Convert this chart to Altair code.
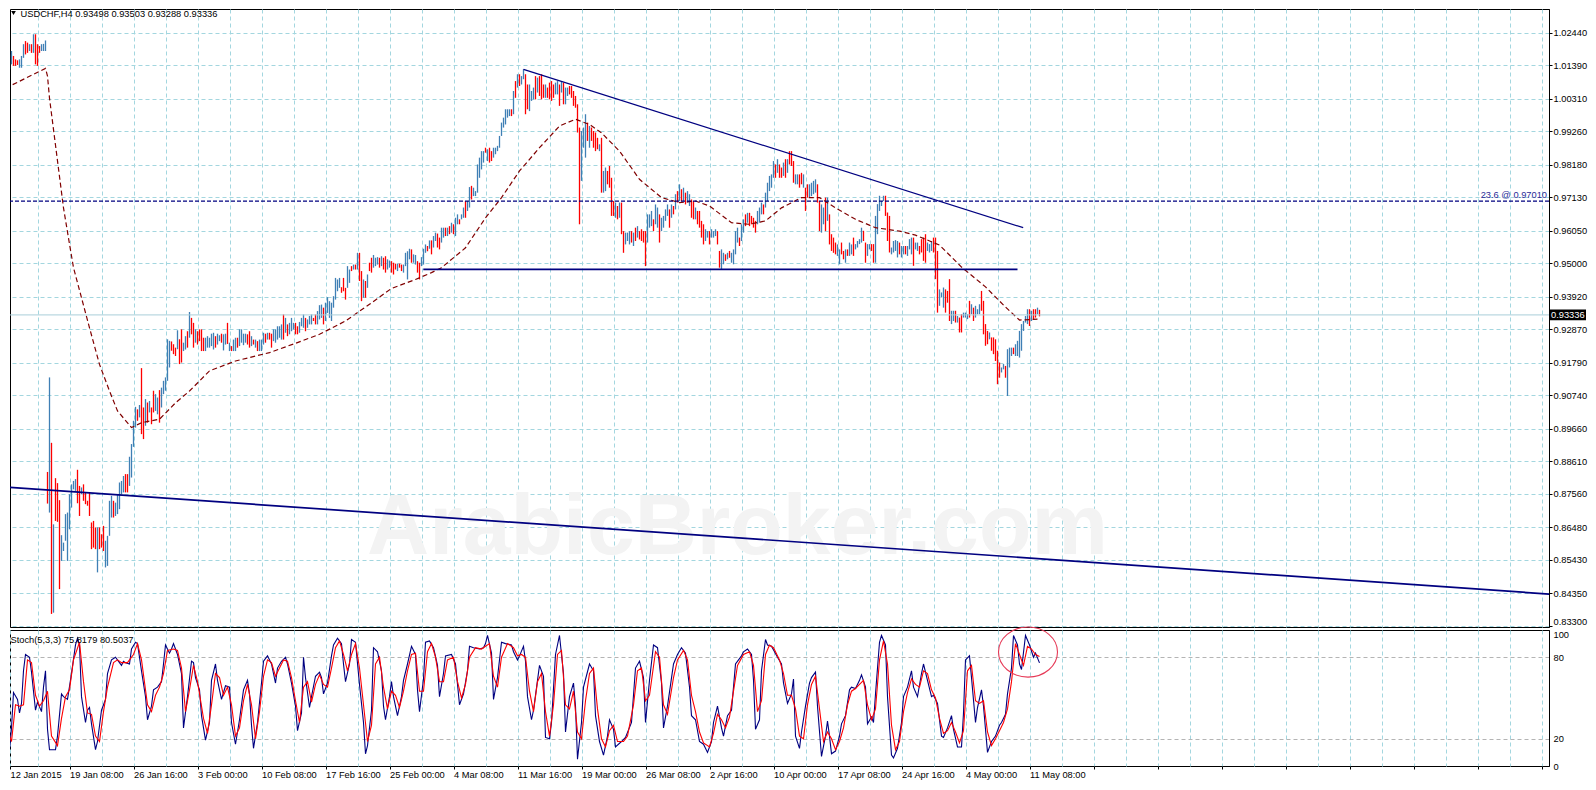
import altair as alt
import pandas as pd

# ---------------- text / axes ----------------
header_text = "USDCHF,H4  0.93498 0.93503 0.93288 0.93336"
stoch_text = "Stoch(5,3,3) 75.8179 80.5037"
fib_text = "23.6 @ 0.97010"
watermark = "ArabicBroker.com"
price_ticks = [1.02440, 1.01390, 1.00310, 0.99260, 0.98180, 0.97130, 0.96050, 0.95000,
               0.93920, 0.92870, 0.91790, 0.90740, 0.89660, 0.88610, 0.87560, 0.86480,
               0.85430, 0.84350, 0.83300]
stoch_ticks = [0, 20, 80, 100]
date_labels = ["12 Jan 2015", "19 Jan 08:00", "26 Jan 16:00", "3 Feb 00:00", "10 Feb 08:00",
               "17 Feb 16:00", "25 Feb 00:00", "4 Mar 08:00", "11 Mar 16:00", "19 Mar 00:00",
               "26 Mar 08:00", "2 Apr 16:00", "10 Apr 00:00", "17 Apr 08:00", "24 Apr 16:00",
               "4 May 00:00", "11 May 08:00"]

# ---------------- H4 bars (price in 1/10000) ----------------
bar_high = [
    10147, 10142, 10174, 10185, 10169, 10158, 10155, 10158, 10169, 10207,
    10217, 10212, 10207, 10207, 10239, 10239, 10207, 10201, 10207, 10208,
    10219, 8827, 9132, 8921, 8658, 8807, 8791, 8736, 8623, 8599,
    8691, 8696, 8755, 8787, 8798, 8804, 8834, 8782, 8777, 8787,
    8761, 8734, 8761, 8664, 8669, 8648, 8648, 8648, 8626, 8653,
    8605, 8621, 8734, 8750, 8734, 8728, 8755, 8793, 8798, 8814,
    8820, 8820, 8876, 8917, 8992, 9037, 9029, 9043, 9162, 9035,
    9062, 9051, 9056, 9035, 9089, 9078, 9067, 9091, 9099, 9121,
    9132, 9255, 9250, 9248, 9239, 9228, 9284, 9255, 9287, 9244,
    9265, 9281, 9343, 9324, 9308, 9287, 9281, 9287, 9287, 9260,
    9260, 9265, 9260, 9273, 9276, 9265, 9273, 9268, 9273, 9271,
    9273, 9308, 9244, 9233, 9254, 9260, 9260, 9287, 9287, 9273,
    9273, 9271, 9281, 9265, 9254, 9254, 9249, 9254, 9254, 9276,
    9273, 9276, 9276, 9273, 9287, 9287, 9297, 9297, 9303, 9335,
    9324, 9303, 9308, 9324, 9308, 9308, 9297, 9311, 9324, 9335,
    9324, 9319, 9330, 9335, 9324, 9335, 9346, 9365, 9367, 9357,
    9373, 9391, 9378, 9373, 9394, 9453, 9448, 9453, 9423, 9453,
    9421, 9491, 9480, 9491, 9496, 9496, 9534, 9534, 9475, 9448,
    9443, 9464, 9502, 9518, 9527, 9518, 9520, 9518, 9523, 9518,
    9523, 9513, 9509, 9507, 9502, 9499, 9499, 9499, 9496, 9496,
    9534, 9539, 9547, 9545, 9529, 9527, 9507, 9502, 9520, 9547,
    9561, 9556, 9574, 9574, 9588, 9599, 9596, 9583, 9615, 9615,
    9615, 9615, 9620, 9631, 9626, 9647, 9658, 9642, 9658, 9680,
    9701, 9701, 9746, 9750, 9744, 9733, 9819, 9841, 9862, 9862,
    9873, 9868, 9873, 9862, 9873, 9873, 9879, 9911, 9954, 9970,
    9997, 9997, 9997, 9997, 10056, 10088, 10110, 10110, 10104, 10126,
    10110, 10077, 10077, 10056, 10067, 10104, 10099, 10104, 10110, 10077,
    10077, 10067, 10083, 10088, 10077, 10083, 10088, 10077, 10088, 10083,
    10067, 10067, 10072, 10072, 10056, 10040, 10013, 9938, 9927, 9938,
    9981, 9954, 9943, 9938, 9927, 9922, 9905, 9884, 9905, 9798,
    9809, 9798, 9814, 9776, 9701, 9696, 9685, 9696, 9696, 9604,
    9599, 9599, 9604, 9604, 9599, 9615, 9620, 9604, 9610, 9604,
    9604, 9658, 9658, 9669, 9642, 9690, 9680, 9658, 9647, 9653,
    9674, 9690, 9674, 9690, 9685, 9723, 9733, 9755, 9739, 9744,
    9728, 9733, 9723, 9706, 9701, 9680, 9669, 9669, 9637, 9626,
    9610, 9604, 9604, 9610, 9604, 9610, 9604, 9540, 9545, 9534,
    9529, 9534, 9540, 9534, 9545, 9604, 9615, 9583, 9626, 9642,
    9658, 9663, 9663, 9653, 9647, 9637, 9669, 9680, 9696, 9690,
    9728, 9760, 9782, 9787, 9830, 9819, 9836, 9819, 9809, 9825,
    9836, 9836, 9862, 9862, 9830, 9787, 9787, 9787, 9792, 9787,
    9744, 9755, 9755, 9760, 9766, 9771, 9755, 9701, 9690, 9680,
    9712, 9712, 9658, 9594, 9583, 9567, 9561, 9545, 9567, 9540,
    9545, 9545, 9567, 9561, 9583, 9562, 9572, 9578, 9615, 9605,
    9567, 9562, 9562, 9562, 9562, 9653, 9691, 9718, 9701, 9718,
    9718, 9664, 9653, 9551, 9572, 9575, 9572, 9567, 9556, 9556,
    9556, 9556, 9578, 9583, 9583, 9567, 9567, 9556, 9578, 9583,
    9594, 9567, 9562, 9572, 9583, 9583, 9540, 9416, 9406, 9422,
    9416, 9411, 9449, 9347, 9347, 9347, 9330, 9325, 9336, 9341,
    9341, 9336, 9379, 9368, 9357, 9363, 9352, 9368, 9411, 9379,
    9304, 9282, 9277, 9261, 9261, 9255, 9218, 9180, 9164, 9175,
    9169, 9223, 9228, 9228, 9228, 9239, 9250, 9282, 9304, 9314,
    9330, 9352, 9352, 9347, 9352, 9352, 9357, 9350,
]
bar_low = [
    10115, 10118, 10126, 10142, 10137, 10137, 10140, 10131, 10131, 10163,
    10174, 10179, 10185, 10179, 10179, 10142, 10137, 10179, 10185, 10185,
    10185, 8725, 8696, 8369, 8373, 8669, 8666, 8449, 8540, 8572,
    8605, 8540, 8642, 8712, 8771, 8766, 8726, 8685, 8755, 8734,
    8723, 8718, 8685, 8578, 8583, 8578, 8503, 8578, 8583, 8572,
    8519, 8524, 8621, 8680, 8680, 8685, 8691, 8707, 8755, 8761,
    8761, 8761, 8782, 8809, 8908, 8970, 8992, 9003, 8949, 8933,
    8976, 8986, 9019, 8981, 9019, 9024, 9013, 8986, 9035, 9078,
    9089, 9121, 9164, 9218, 9207, 9201, 9223, 9175, 9180, 9217,
    9222, 9228, 9260, 9271, 9228, 9244, 9238, 9249, 9217, 9217,
    9217, 9228, 9228, 9233, 9222, 9228, 9238, 9249, 9244, 9219,
    9238, 9240, 9217, 9217, 9217, 9217, 9228, 9233, 9244, 9236,
    9244, 9238, 9228, 9233, 9238, 9228, 9217, 9217, 9217, 9238,
    9244, 9254, 9254, 9228, 9249, 9244, 9254, 9260, 9254, 9254,
    9276, 9265, 9271, 9281, 9287, 9271, 9271, 9276, 9297, 9292,
    9281, 9292, 9303, 9303, 9314, 9303, 9303, 9319, 9324, 9303,
    9314, 9340, 9324, 9314, 9357, 9383, 9410, 9421, 9405, 9410,
    9383, 9421, 9437, 9475, 9480, 9480, 9480, 9443, 9378, 9389,
    9389, 9421, 9475, 9470, 9486, 9491, 9496, 9486, 9491, 9480,
    9470, 9480, 9486, 9470, 9464, 9480, 9475, 9486, 9475, 9470,
    9491, 9448, 9513, 9502, 9502, 9496, 9470, 9448, 9491, 9496,
    9534, 9539, 9547, 9529, 9551, 9572, 9551, 9545, 9567, 9583,
    9588, 9588, 9594, 9599, 9594, 9588, 9626, 9626, 9642, 9647,
    9647, 9669, 9680, 9706, 9717, 9717, 9728, 9776, 9803, 9825,
    9857, 9830, 9825, 9830, 9841, 9852, 9862, 9873, 9911, 9938,
    9948, 9970, 9975, 9975, 9981, 10034, 10067, 10072, 10077, 10094,
    9981, 9997, 9991, 10024, 10029, 10029, 10051, 10040, 10029, 10034,
    10034, 10034, 10029, 10024, 10034, 10045, 10045, 10008, 10051, 10013,
    10013, 10040, 10045, 10034, 10008, 10002, 9922, 9626, 9766, 9873,
    9841, 9895, 9873, 9895, 9873, 9862, 9868, 9862, 9728, 9728,
    9733, 9755, 9744, 9653, 9653, 9647, 9642, 9647, 9594, 9534,
    9561, 9572, 9561, 9567, 9556, 9572, 9583, 9577, 9572, 9567,
    9491, 9567, 9615, 9620, 9604, 9626, 9615, 9567, 9604, 9615,
    9637, 9653, 9615, 9647, 9658, 9674, 9696, 9701, 9701, 9701,
    9690, 9696, 9685, 9647, 9642, 9642, 9626, 9615, 9583, 9561,
    9572, 9583, 9561, 9583, 9583, 9588, 9561, 9486, 9481, 9497,
    9508, 9513, 9518, 9502, 9497, 9529, 9567, 9556, 9572, 9599,
    9620, 9631, 9620, 9626, 9615, 9599, 9626, 9631, 9658, 9658,
    9680, 9701, 9733, 9744, 9776, 9776, 9792, 9776, 9776, 9782,
    9776, 9792, 9819, 9814, 9760, 9755, 9755, 9744, 9755, 9744,
    9669, 9712, 9712, 9717, 9723, 9728, 9696, 9604, 9599, 9626,
    9604, 9637, 9561, 9540, 9534, 9529, 9524, 9497, 9529, 9513,
    9502, 9524, 9524, 9529, 9524, 9545, 9551, 9562, 9567, 9572,
    9502, 9524, 9545, 9540, 9502, 9502, 9594, 9669, 9685, 9701,
    9653, 9572, 9535, 9529, 9535, 9540, 9519, 9529, 9519, 9529,
    9529, 9524, 9545, 9529, 9492, 9545, 9540, 9529, 9535, 9508,
    9502, 9540, 9535, 9540, 9535, 9449, 9341, 9363, 9390, 9357,
    9341, 9373, 9314, 9304, 9314, 9309, 9309, 9277, 9277, 9325,
    9325, 9320, 9325, 9336, 9314, 9325, 9336, 9336, 9347, 9271,
    9234, 9239, 9255, 9218, 9207, 9185, 9110, 9131, 9148, 9158,
    9131, 9072, 9164, 9201, 9207, 9201, 9201, 9196, 9218, 9282,
    9309, 9304, 9298, 9314, 9320, 9325, 9336, 9329,
]
# u = up (close above open), d = down; ten bars per chunk
bar_dir_chunks = [
    "dduuddduuu", "ddududdduu", "udududdduu", "uuuuuuddud", "dddddduddd",
    "uuuuduuuuu", "dduuuududd", "ududduuduu", "uuuddduddu", "ududdudddd",
    "uuuuuduudu", "ududuuduuu", "uddududuuu", "dudduuuuud", "uduuudduuu",
    "duuudduuud", "uuuuuuuudd", "duudududdu", "dudduuudud", "duuddduddu",
    "uuuduudduu", "ududuudduu", "dududuuduu", "duuduuuuuu", "dudduuuuuu",
    "uuudududuu", "dduuududdd", "udddduudud", "uudddddduu", "ududdddudu",
    "uddddududd", "uuudududdd", "duuuduuduu", "uududududu", "duuddudddd",
    "uuduuudduu", "duduuuuduu", "dudddduuud", "uuuuududdu", "duddduuddu",
    "dduuuudduu", "dudddduudd", "uduuduuuud", "duudduuuuu", "ddduuuuduu",
    "duuuduuddd", "duuuddduuu", "ddduududdu", "uududuuudd", "dduddddduu",
    "duuuduuuuu", "uududdud",
]
bar_dir = "".join(bar_dir_chunks)

# ---------------- moving average (bar, price/10000) ----------------
ma_points = [
    (0, 10065), (20, 10129), (21, 10104), (22, 10033), (29, 9679), (32, 9562), (34, 9486),
    (38, 9389), (42, 9292), (47, 9174), (52, 9088), (56, 9024), (63, 8970), (68, 8986),
    (77, 8997), (85, 9050), (92, 9088), (102, 9153), (115, 9185), (132, 9212), (145, 9242),
    (157, 9271), (170, 9314), (182, 9368), (193, 9419), (205, 9448), (213, 9470), (218, 9486),
    (230, 9550), (240, 9647), (248, 9712), (257, 9798), (267, 9873), (277, 9943), (285, 9965),
    (292, 9948), (298, 9921), (307, 9862), (317, 9771), (328, 9712), (337, 9696), (345, 9701),
    (352, 9685), (363, 9631), (372, 9626), (380, 9637), (388, 9679), (398, 9712), (407, 9712),
    (415, 9679), (425, 9642), (435, 9615), (447, 9604), (455, 9591), (467, 9559), (478, 9488),
    (490, 9424), (500, 9359), (507, 9317), (516, 9320),
]

# ---------------- stochastic %K and %D (bar, value) ----------------
stoch_k = [
    (0, 22), (2, 12), (3, 28), (4, 54), (6, 49), (7, 39), (8, 46), (9, 70), (10, 82), (12, 80),
    (13, 69), (15, 41), (16, 47), (18, 40), (19, 58), (20, 70), (21, 27), (22, 12), (25, 12),
    (26, 22), (28, 53), (29, 51), (31, 49), (33, 68), (35, 89), (36, 94), (37, 89), (38, 51),
    (40, 32), (41, 41), (42, 43), (43, 31), (45, 12), (46, 18), (48, 41), (50, 49), (51, 68),
    (53, 78), (55, 80), (58, 74), (59, 77), (60, 76), (62, 75), (63, 86), (65, 91), (66, 90),
    (68, 70), (70, 51), (71, 34), (73, 44), (74, 56), (76, 58), (78, 62), (79, 75), (80, 89),
    (82, 83), (83, 86), (84, 90), (86, 82), (88, 68), (89, 28), (91, 51), (93, 77), (94, 76),
    (95, 65), (97, 56), (98, 37), (100, 19), (102, 32), (103, 63), (105, 75), (106, 63),
    (108, 49), (110, 59), (112, 58), (113, 32), (115, 16), (117, 34), (119, 56), (121, 63),
    (122, 53), (123, 30), (124, 13), (126, 32), (128, 61), (129, 77), (131, 81), (133, 75),
    (135, 61), (136, 72), (138, 77), (140, 80), (141, 75), (143, 61), (145, 44), (146, 26),
    (148, 39), (149, 80), (150, 65), (152, 43), (153, 51), (155, 66), (157, 69), (158, 65),
    (159, 53), (161, 61), (163, 81), (164, 89), (166, 94), (168, 90), (169, 75), (170, 62),
    (172, 75), (173, 93), (175, 91), (177, 60), (179, 32), (180, 9), (181, 15), (183, 41),
    (184, 87), (186, 84), (188, 70), (189, 44), (190, 34), (192, 51), (193, 62), (194, 51),
    (196, 37), (198, 51), (199, 63), (201, 75), (203, 88), (205, 82), (206, 56), (207, 40),
    (209, 64), (210, 91), (212, 92), (214, 87), (216, 74), (217, 51), (219, 68), (220, 81),
    (223, 82), (225, 75), (227, 45), (229, 53), (231, 70), (232, 88), (234, 87), (237, 86),
    (239, 87), (240, 90), (241, 96), (243, 83), (244, 49), (246, 65), (248, 91), (250, 90),
    (253, 89), (254, 84), (256, 78), (257, 81), (259, 88), (260, 77), (261, 51), (263, 34),
    (264, 41), (267, 74), (269, 66), (270, 21), (272, 20), (273, 32), (275, 82), (277, 96),
    (279, 68), (280, 25), (282, 51), (284, 61), (285, 44), (286, 5), (288, 32), (289, 58),
    (292, 75), (294, 70), (295, 37), (297, 18), (299, 8), (301, 22), (302, 34), (304, 27),
    (305, 14), (308, 18), (310, 21), (313, 32), (315, 72), (317, 77), (319, 65), (320, 32),
    (322, 63), (324, 89), (326, 87), (328, 61), (329, 28), (331, 44), (334, 75), (336, 82),
    (338, 87), (340, 83), (342, 58), (343, 37), (345, 34), (347, 18), (349, 16), (351, 10),
    (353, 18), (354, 32), (356, 44), (358, 28), (359, 22), (361, 37), (363, 41), (365, 75),
    (368, 81), (369, 84), (371, 86), (373, 82), (374, 63), (375, 27), (377, 34), (378, 70),
    (380, 93), (381, 89), (383, 88), (386, 80), (388, 75), (389, 61), (391, 46), (393, 53),
    (394, 64), (395, 22), (397, 13), (398, 25), (400, 44), (402, 61), (403, 65), (405, 69),
    (406, 44), (408, 7), (410, 22), (411, 33), (412, 22), (413, 9), (415, 11), (417, 22),
    (418, 31), (420, 37), (422, 56), (423, 58), (425, 57), (427, 63), (428, 67), (430, 58),
    (431, 31), (433, 36), (434, 32), (435, 53), (437, 91), (438, 96), (440, 89), (441, 51),
    (443, 8), (444, 6), (446, 13), (448, 32), (449, 51), (451, 58), (453, 70), (454, 58),
    (456, 51), (458, 68), (459, 75), (461, 63), (463, 51), (464, 52), (466, 46), (468, 22),
    (469, 21), (471, 28), (473, 37), (474, 27), (476, 14), (478, 14), (479, 39), (480, 78),
    (482, 81), (483, 65), (485, 32), (486, 43), (488, 56), (489, 44), (490, 27), (491, 10),
    (493, 18), (495, 22), (497, 30), (498, 32), (500, 38), (501, 53), (503, 72), (504, 96),
    (506, 89), (507, 75), (508, 71), (510, 96), (512, 89), (514, 80), (515, 83), (517, 75.8),
]
stoch_d = [
    (0, 30), (3, 18), (5, 45), (7, 44), (9, 45), (11, 78), (13, 76), (15, 52), (17, 44),
    (19, 48), (21, 55), (23, 22), (26, 15), (28, 35), (30, 51), (32, 56), (34, 78), (37, 91),
    (39, 62), (41, 39), (43, 38), (45, 22), (47, 18), (49, 40), (51, 58), (54, 76), (56, 78),
    (58, 76), (61, 76), (64, 82), (66, 90), (68, 78), (71, 45), (73, 40), (75, 52), (77, 58),
    (79, 68), (81, 85), (84, 86), (86, 85), (88, 72), (90, 40), (92, 56), (94, 74), (96, 62),
    (99, 35), (101, 24), (103, 45), (105, 68), (107, 65), (109, 52), (111, 58), (113, 45),
    (115, 22), (117, 28), (119, 48), (121, 60), (123, 45), (125, 20), (127, 40), (129, 66),
    (131, 78), (133, 76), (135, 66), (137, 72), (139, 78), (141, 77), (143, 65), (145, 48),
    (147, 32), (149, 58), (151, 62), (153, 47), (155, 60), (157, 67), (159, 60), (161, 58),
    (163, 72), (165, 87), (167, 92), (169, 82), (171, 70), (173, 82), (175, 90), (177, 72),
    (179, 45), (181, 18), (183, 30), (185, 75), (187, 80), (189, 58), (191, 42), (193, 55),
    (195, 52), (197, 43), (199, 55), (201, 70), (203, 82), (205, 83), (207, 55), (209, 55),
    (211, 84), (213, 90), (215, 80), (217, 62), (219, 62), (221, 78), (224, 80), (226, 62),
    (228, 50), (230, 60), (232, 80), (235, 87), (238, 86), (240, 88), (242, 90), (244, 66),
    (246, 58), (248, 80), (251, 90), (254, 87), (256, 81), (258, 82), (260, 80), (262, 55),
    (264, 40), (266, 62), (268, 68), (270, 40), (272, 22), (274, 45), (276, 82), (278, 85),
    (280, 45), (282, 42), (284, 55), (286, 25), (288, 20), (290, 48), (292, 68), (294, 72),
    (296, 42), (298, 20), (300, 14), (302, 26), (304, 30), (306, 18), (309, 18), (311, 22),
    (314, 45), (316, 70), (318, 72), (320, 48), (322, 52), (325, 84), (327, 80), (329, 45),
    (331, 38), (334, 65), (336, 78), (339, 85), (341, 78), (343, 52), (345, 40), (347, 25),
    (349, 17), (352, 14), (354, 24), (356, 38), (358, 34), (360, 28), (362, 36), (364, 55),
    (366, 74), (369, 82), (372, 84), (374, 74), (376, 40), (378, 48), (380, 82), (382, 89),
    (384, 87), (387, 78), (389, 68), (391, 52), (393, 52), (395, 42), (397, 22), (399, 20),
    (401, 45), (403, 60), (405, 66), (407, 42), (409, 18), (411, 25), (413, 20), (415, 12),
    (417, 18), (419, 28), (421, 45), (423, 55), (425, 57), (427, 60), (429, 63), (431, 45),
    (433, 34), (435, 42), (437, 78), (439, 92), (441, 75), (443, 30), (445, 12), (447, 18),
    (449, 40), (451, 54), (453, 64), (455, 60), (457, 58), (459, 70), (461, 68), (463, 56),
    (465, 50), (467, 35), (469, 24), (471, 26), (473, 32), (475, 25), (477, 17), (479, 26),
    (481, 70), (483, 74), (485, 48), (487, 46), (489, 48), (491, 25), (493, 15), (495, 20),
    (497, 26), (499, 32), (501, 42), (503, 62), (505, 90), (507, 82), (509, 74), (511, 88),
    (513, 86), (515, 82), (517, 80.5),
]

# ---------------- drawn objects ----------------
down_trend = {"x1": [259], "y1": [1.01259], "x2": [508.85], "y2": [0.96149]}
other_lines = {"x1": [208.9, -0.5], "y1": [0.94807, 0.87784],
               "x2": [506, 775], "y2": [0.94807, 0.84316]}
fib_level = 0.97010
last_price = 0.93336
last_price_label = "0.93336"
circle_bar, circle_value = 511.25, 83.8
watermark_bar, watermark_price = 366, 0.8646

# ---------------- styles ----------------
FONT = "Liberation Sans"
FS = 9.3
AFS = 9.3
GRID = "#a3d6df"
UP = "#3f7fb5"
DOWN = "#ff0000"
NAVY = "#000080"
W = 1539
X0 = 2.25

n = min(len(bar_high), len(bar_low))
dirs = (bar_dir + "u" * n)[:n]
bars = pd.DataFrame({
    "bar": list(range(n)),
    "high": [v / 10000 for v in bar_high[:n]],
    "low": [v / 10000 for v in bar_low[:n]],
    "dir": list(dirs),
})
ma_df = pd.DataFrame({"bar": [p[0] for p in ma_points], "val": [p[1] / 10000 for p in ma_points]})
k_df = pd.DataFrame({"bar": [p[0] for p in stoch_k], "v": [p[1] for p in stoch_k]})
d_df = pd.DataFrame({"bar": [p[0] for p in stoch_d], "v": [p[1] for p in stoch_d]})

xs = alt.Scale(domain=[X0, X0 + W / 2], nice=False, zero=False)
ys = alt.Scale(domain=[0.83268, 1.03205], nice=False, zero=False)
ss = alt.Scale(domain=[0, 100], nice=False, zero=False)

grid_vals = [v for v in range(16, 780, 16) if v < X0 + W / 2]

x_axis_main = alt.Axis(values=grid_vals, labels=False, ticks=False, domain=False, grid=True,
                       gridDash=[4, 3], gridColor=GRID, title=None)
y_axis_main = alt.Axis(orient="right", values=price_ticks, format=".5f", grid=True,
                       gridDash=[4, 3], gridColor=GRID, tickSize=3, tickColor="black",
                       domainColor="black", labelPadding=1, labelFont=FONT, labelFontSize=AFS,
                       labelColor="black", labelOverlap=False, title=None,
                       labelBaseline={"condition": {"test": "datum.value < 0.834", "value": "bottom"},
                                      "value": "middle"})

arr = "[" + ",".join("'%s'" % s for s in date_labels) + "]"
label_expr = "datum.value % 32 == 16 ? '' : (" + arr + "[floor(datum.value / 32)] || '')"
x_axis_stoch = alt.Axis(values=[X0] + grid_vals, grid=True, gridDash=[4, 3], gridColor=GRID,
                        domain=False, tickSize=3,
                        tickColor={"condition": {"test": "datum.value % 32 == 16", "value": "transparent"},
                                   "value": "black"},
                        labelExpr=label_expr, labelAlign="left", labelPadding=1, labelFont=FONT,
                        labelFontSize=AFS, labelColor="black", labelOverlap=False, labelFlush=False,
                        title=None)
y_axis_stoch = alt.Axis(orient="right", values=stoch_ticks, grid=True, gridDash=[4, 3],
                        gridColor={"condition": {"test": "datum.value == 20 || datum.value == 80",
                                                 "value": "#b4b4b4"}, "value": "transparent"},
                        tickSize=0, labelPadding=4, domainColor="black", labelFont=FONT,
                        labelFontSize=AFS, labelColor="black", labelOverlap=False, title=None,
                        labelBaseline={"condition": {"test": "datum.value == 100", "value": "top"},
                                       "value": "middle"})


def mx(field):
    return alt.X(field, scale=xs, axis=x_axis_main)


def my(field):
    return alt.Y(field, scale=ys, axis=y_axis_main)


# ---------------- main panel ----------------
wm = alt.Chart(pd.DataFrame({"bar": [watermark_bar], "p": [watermark_price], "t": [watermark]})).mark_text(
    font=FONT, fontSize=86, fontWeight="bold", color="#f3f3f3").encode(
    x=mx("bar:Q"), y=my("p:Q"), text="t:N")

bar_layer = alt.Chart(bars).mark_rule(strokeWidth=1.3, clip=True).encode(
    x=mx("bar:Q"), y=my("low:Q"), y2="high:Q",
    color=alt.Color("dir:N", scale=alt.Scale(domain=["u", "d"], range=[UP, DOWN]), legend=None),
)

ma_layer = alt.Chart(ma_df).mark_line(color="#800000", strokeWidth=1.2, strokeDash=[5, 3], clip=True).encode(
    x=mx("bar:Q"), y=my("val:Q"))

trend1 = alt.Chart(pd.DataFrame(down_trend)).mark_rule(color=NAVY, strokeWidth=1.25, clip=True).encode(
    x=mx("x1:Q"), x2="x2:Q", y=my("y1:Q"), y2="y2:Q")
trend2 = alt.Chart(pd.DataFrame(other_lines)).mark_rule(color=NAVY, strokeWidth=1.7, clip=True).encode(
    x=mx("x1:Q"), x2="x2:Q", y=my("y1:Q"), y2="y2:Q")

fib_layer = alt.Chart(pd.DataFrame({"p": [fib_level]})).mark_rule(
    color=NAVY, strokeWidth=1.2, strokeDash=[4, 2]).encode(y=my("p:Q"))
fib_label = alt.Chart(pd.DataFrame({"p": [fib_level], "t": [fib_text]})).mark_text(
    align="right", baseline="bottom", dy=-1, font=FONT, fontSize=FS, color="#2a2a96").encode(
    x=alt.value(W - 2), y=my("p:Q"), text="t:N")

last_layer = alt.Chart(pd.DataFrame({"p": [last_price]})).mark_rule(
    color="#aacfd9", strokeWidth=1).encode(y=my("p:Q"))
last_box = alt.Chart(pd.DataFrame({"p": [last_price]})).mark_point(
    shape="M-1,-0.29L1,-0.29L1,0.29L-1,0.29Z", size=37 * 37, filled=True, color="black",
    opacity=1, strokeWidth=0).encode(x=alt.value(W + 18.5), y=my("p:Q"))
last_text = alt.Chart(pd.DataFrame({"p": [last_price], "t": [last_price_label]})).mark_text(
    align="left", baseline="middle", font=FONT, fontSize=AFS, color="white").encode(
    x=alt.value(W + 2), y=my("p:Q"), text="t:N")

hdr = alt.Chart(pd.DataFrame({"t": [header_text]})).mark_text(
    align="left", baseline="alphabetic", font=FONT, fontSize=FS, color="black").encode(
    x=alt.value(10.5), y=alt.value(7.5), text="t:N")
tri = alt.Chart(pd.DataFrame({"t": [1]})).mark_point(
    shape="triangle-down", filled=True, color="black", size=22, opacity=1).encode(
    x=alt.value(3.5), y=alt.value(4))

main = alt.layer(bar_layer, wm, ma_layer, trend1, trend2, fib_layer, last_layer, fib_label,
                 last_box, last_text, hdr, tri).properties(width=W, height=618)

# ---------------- stochastic panel ----------------
def sx(field):
    return alt.X(field, scale=xs, axis=x_axis_stoch)


def sy(field):
    return alt.Y(field, scale=ss, axis=y_axis_stoch)


k_layer = alt.Chart(k_df).mark_line(color=NAVY, strokeWidth=1.1, clip=True).encode(
    x=sx("bar:Q"), y=sy("v:Q"))
d_layer = alt.Chart(d_df).mark_line(color="#ff0000", strokeWidth=1.1, clip=True).encode(
    x=sx("bar:Q"), y=sy("v:Q"))
st_label = alt.Chart(pd.DataFrame({"t": [stoch_text]})).mark_text(
    align="left", baseline="middle", font=FONT, fontSize=FS, color="black").encode(
    x=alt.value(0.5), y=alt.value(10), text="t:N")
circle = alt.Chart(pd.DataFrame({"b": [circle_bar], "v": [circle_value]})).mark_point(
    shape="M-1,0A1,0.85,0,1,0,1,0A1,0.85,0,1,0,-1,0Z", size=59 * 59, filled=False,
    color="#e63a57", strokeWidth=1.1, opacity=1).encode(x=sx("b:Q"), y=sy("v:Q"))

stoch = alt.layer(k_layer, d_layer, st_label, circle).properties(width=W, height=136)

chart = alt.vconcat(main, stoch, spacing=3, bounds="flush").properties(
    padding={"left": 0, "top": 0, "right": 0, "bottom": 0}, background="white"
).configure_view(stroke="black", strokeWidth=1)

chart.save("out.html", embed_options={"renderer": "svg", "actions": False})
